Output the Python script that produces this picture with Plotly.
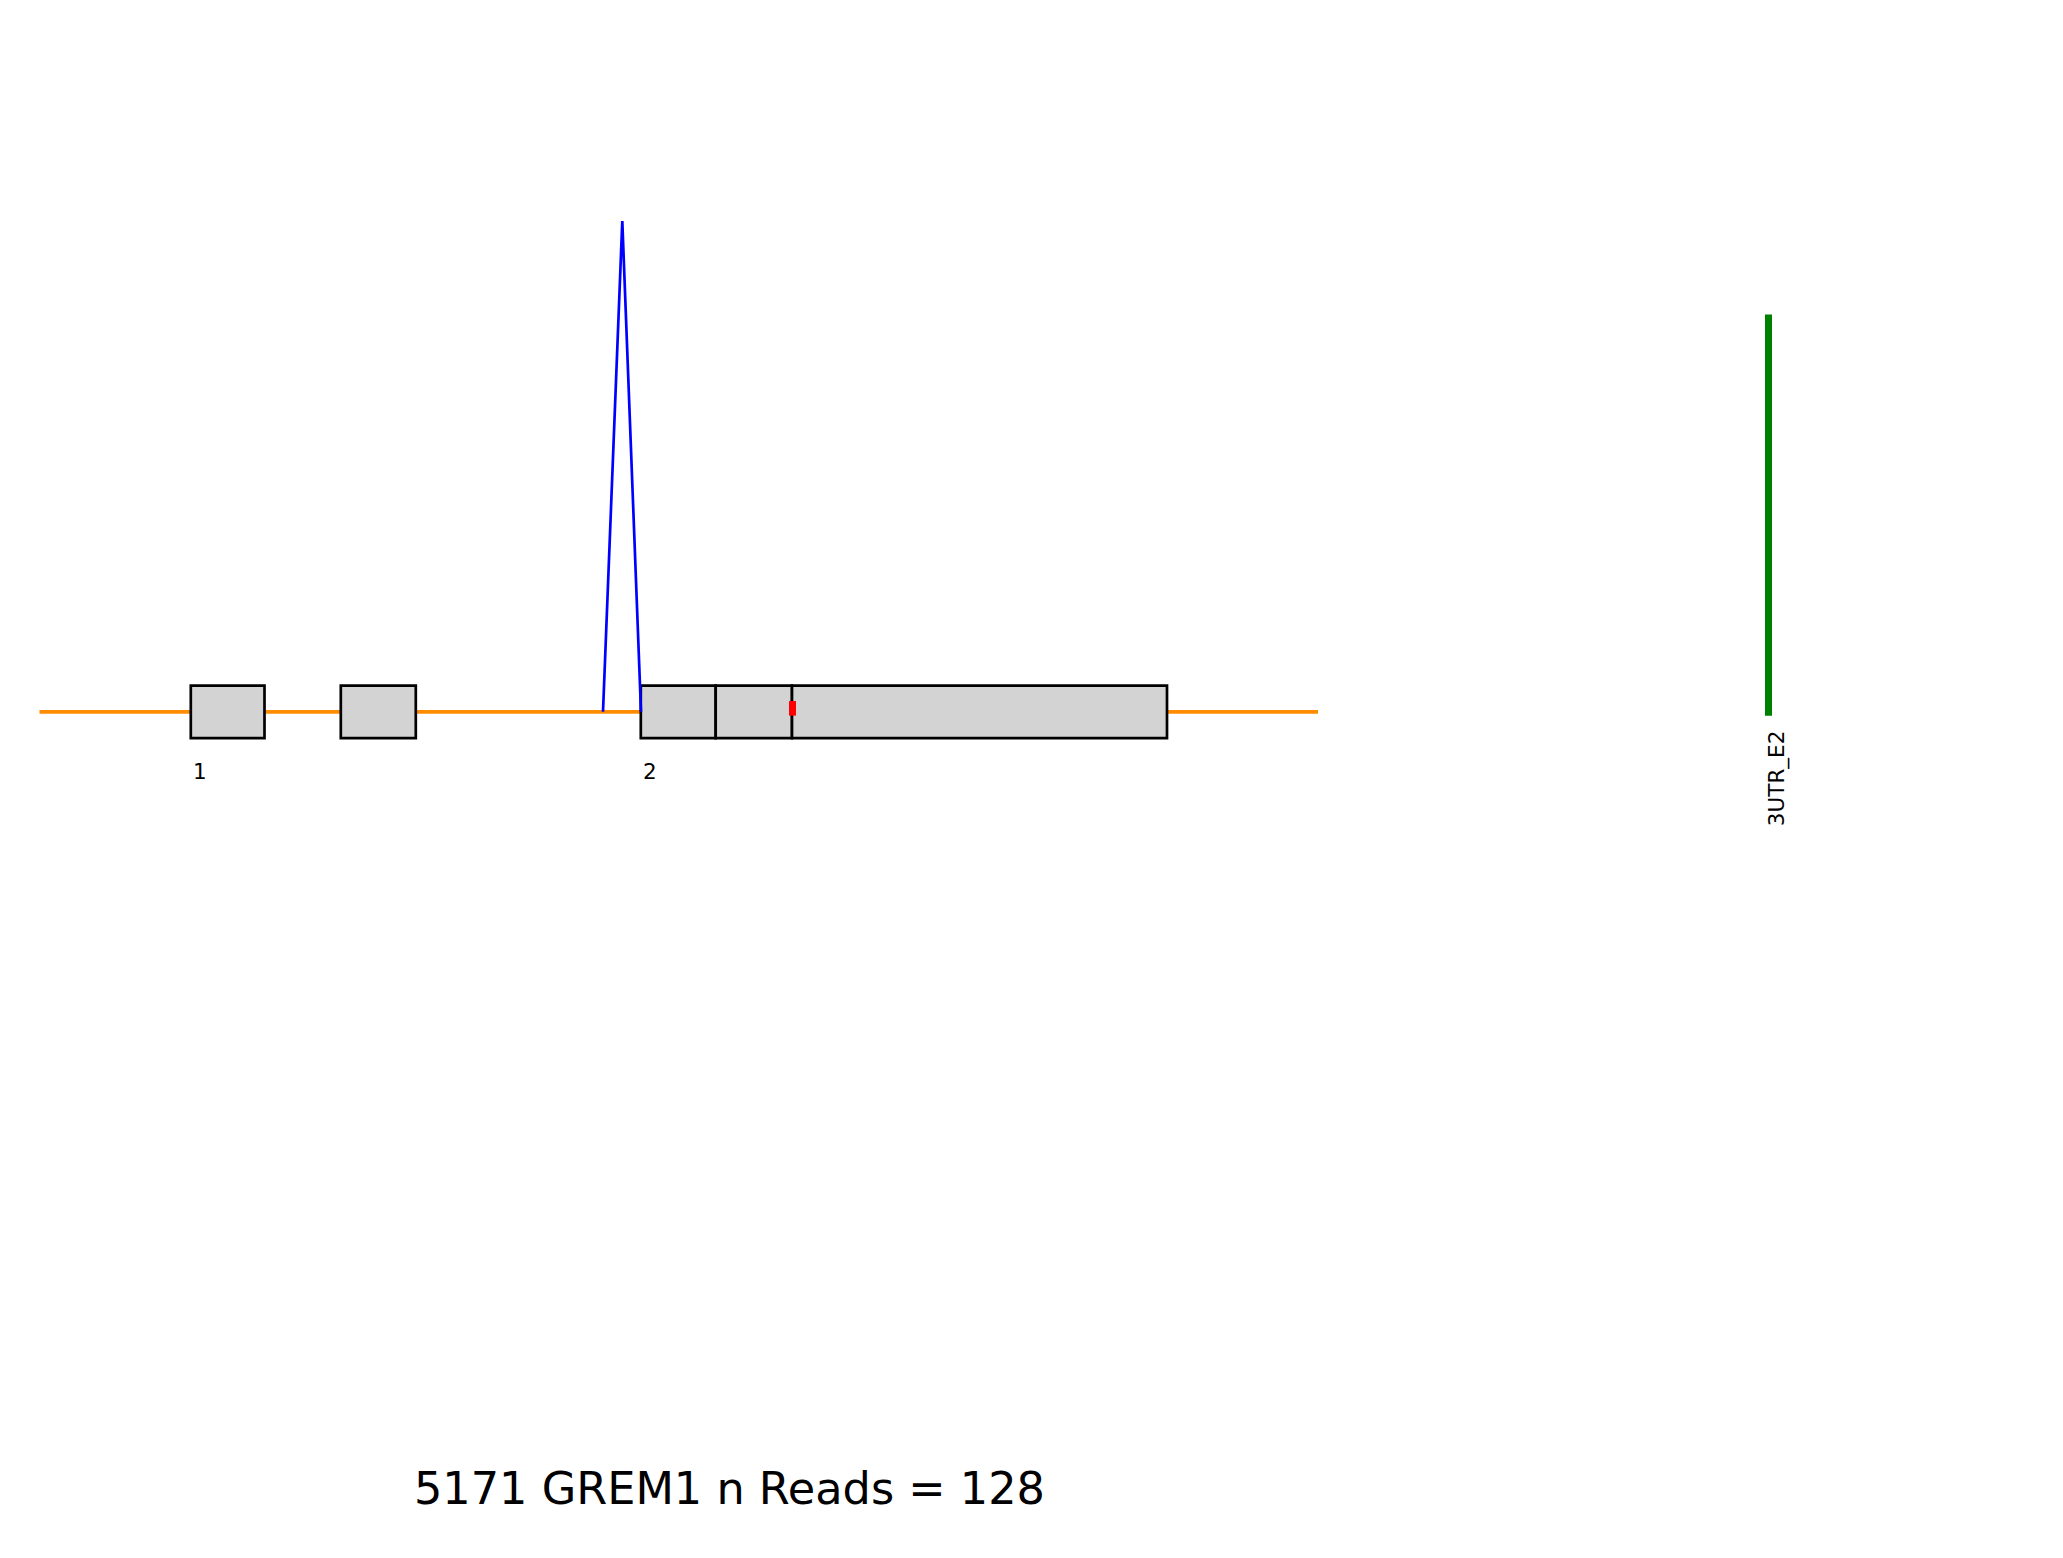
import plotly.graph_objects as go

# ---- data (x in relative position units, y in read-count units) ----
title_text = "5171 GREM1 n Reads = 128"
gene_start, gene_end = 39.5, 1318.0
exon_starts = [190.8, 340.8, 640.8, 715.7, 792.0]
exon_ends = [264.5, 415.8, 715.7, 792.0, 1167.0]
exon_half_height = 6.85
exon_labels = ["1", "", "2", "", ""]
junction_x = [603.0, 622.3, 641.0]
junction_y = [0, 128, 0]
site_x = 792.5
site_y = [-1.0, 2.8]
utr_x = 1768.5
utr_y = [-1.0, 103.6]
utr_label = "3UTR_E2"

W, H = 2063, 1558
px_per_unit = (711.8 - 221.0) / 128
y_top = 711.8 / px_per_unit
y_bot = -(H - 711.8) / px_per_unit

FONT = "DejaVu Sans"
fig = go.Figure()

# gene backbone
fig.add_trace(go.Scatter(x=[gene_start, gene_end], y=[0, 0], mode="lines",
                         line=dict(color="#ff8c00", width=3.7), hoverinfo="skip"))

# exon boxes
for s, e in zip(exon_starts, exon_ends):
    h = exon_half_height
    fig.add_trace(go.Scatter(
        x=[s, e, e, s, s, e],
        y=[-h, -h, h, h, -h, -h],
        mode="lines", fill="toself", fillcolor="#d3d3d3",
        line=dict(color="black", width=2.7), hoverinfo="skip"))

# junction arc
fig.add_trace(go.Scatter(x=junction_x, y=junction_y, mode="lines",
                         line=dict(color="#0000ff", width=2.7), hoverinfo="skip"))

# site mark
fig.add_trace(go.Scatter(x=[site_x, site_x], y=site_y, mode="lines",
                         line=dict(color="#ff0000", width=7), hoverinfo="skip"))

# 3'UTR read bar
fig.add_trace(go.Scatter(x=[utr_x, utr_x], y=utr_y, mode="lines",
                         line=dict(color="#008000", width=7), hoverinfo="skip"))

annotations = []
for s, lab in zip(exon_starts, exon_labels):
    if lab:
        annotations.append(dict(x=s, y=-15.44, xref="x", yref="y", text=lab, showarrow=False,
                                xanchor="left", yanchor="middle",
                                font=dict(family=FONT, size=21.5, color="black")))
annotations.append(dict(x=utr_x + 8.5, y=-17.3, xref="x", yref="y", text=utr_label, showarrow=False,
                        textangle=-90, xanchor="center", yanchor="middle",
                        font=dict(family=FONT, size=21.5, color="black")))
annotations.append(dict(x=729.6 / W, y=1 - 1489 / H, xref="paper", yref="paper", text=title_text,
                        showarrow=False, xanchor="center", yanchor="middle",
                        font=dict(family=FONT, size=44.6, color="black")))

fig.update_layout(
    width=W, height=H, margin=dict(l=0, r=0, t=0, b=0),
    paper_bgcolor="white", plot_bgcolor="white", showlegend=False,
    xaxis=dict(range=[0, W], visible=False, fixedrange=True),
    yaxis=dict(range=[y_bot, y_top], visible=False, fixedrange=True),
    annotations=annotations,
)

fig.write_html("out.html")
